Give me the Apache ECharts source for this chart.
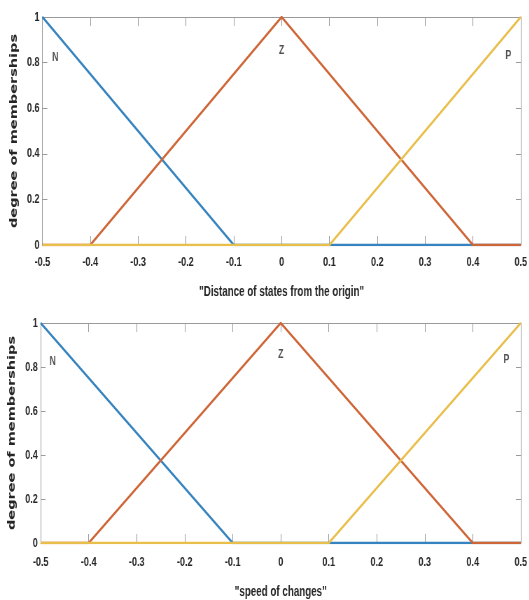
<!DOCTYPE html>
<html>
<head>
<meta charset="utf-8">
<script src="https://cdn.jsdelivr.net/npm/echarts@6/dist/echarts.min.js"></script>
<style>
  html, body { margin: 0; padding: 0; background: #fff; overflow: hidden; }
  /* narrow figure: drawn wide, then condensed horizontally */
  #chart { width: 756px; height: 600px; transform: scaleX(0.7); transform-origin: 0 0; }
</style>
</head>
<body>
<div id="chart"></div>
<script>
// Membership functions (breakpoints and membership degrees)
const nX = [-0.5, -0.1, 0.5];
const nY = [1, 0, 0];
const zX = [-0.5, -0.4, 0, 0.4, 0.5];
const zY = [0, 0, 1, 0, 0];
const pX = [-0.5, 0.1, 0.5];
const pY = [0, 0, 1];

// Fuzzy set names and where they are written
const setNames = ['N', 'Z', 'P'];
const namesX1 = [-0.473, 0, 0.474];
const namesY1 = [0.82, 0.855, 0.83];
const namesX2 = [-0.475, 0, 0.47];
const namesY2 = [0.825, 0.855, 0.835];

// Axis titles and tick labels
const xTitles = ['"Distance of states from the origin"', '"speed of changes"'];
const yTitle = 'degree of memberships';
const xTicks = [-0.5, -0.4, -0.3, -0.2, -0.1, 0, 0.1, 0.2, 0.3, 0.4, 0.5];
const yTicks = [0, 0.2, 0.4, 0.6, 0.8, 1];

const colors = { N: '#3583bf', Z: '#cf6638', P: '#e9bf4c' };
const boxColor = '#9a9a9a';
const textColor = '#262626';
const tickFont = 'Liberation Sans, Arial, sans-serif';

const pairs = (xs, ys) => xs.map((x, i) => [x, ys[i]]);
const fmt = v => String(Math.round(v * 10) / 10);

const grids = [
  { left: 60.6, right: 5, top: 17, height: 228, labelGap: 11, titleGap: 40 },
  { left: 58.1, right: 2, top: 323, height: 226, labelGap: 13, titleGap: 42 }
];

const xAxes = [], yAxes = [], series = [];
grids.forEach((g, gi) => {
  xAxes.push({
    type: 'value', gridIndex: gi, min: xTicks[0], max: xTicks[xTicks.length - 1], interval: 0.1,
    position: 'bottom',
    name: xTitles[gi], nameLocation: 'middle', nameGap: g.titleGap,
    nameTextStyle: { fontFamily: tickFont, fontSize: 14, fontWeight: 'bold', color: textColor },
    axisLine: { show: true, onZero: false, lineStyle: { color: boxColor, width: 1 } },
    axisTick: { show: true, inside: true, length: 9, lineStyle: { color: boxColor } },
    axisLabel: {
      margin: g.labelGap, fontFamily: tickFont, fontSize: 13, fontWeight: 'bold', color: textColor,
      showMinLabel: true, showMaxLabel: true, formatter: fmt
    },
    splitLine: { show: false }
  });
  xAxes.push({
    type: 'value', gridIndex: gi, min: xTicks[0], max: xTicks[xTicks.length - 1], interval: 0.1,
    position: 'top',
    axisLine: { show: true, onZero: false, lineStyle: { color: boxColor, width: 1 } },
    axisTick: { show: true, inside: true, length: 9, lineStyle: { color: boxColor } },
    axisLabel: { show: false },
    splitLine: { show: false }
  });
  yAxes.push({
    type: 'value', gridIndex: gi, min: yTicks[0], max: yTicks[yTicks.length - 1], interval: 0.2,
    position: 'left',
    name: yTitle, nameLocation: 'middle', nameGap: 32, nameRotate: 90,
    nameTextStyle: { fontFamily: 'DejaVu Sans, sans-serif', fontSize: 14.5, fontWeight: 'bold', color: textColor },
    axisLine: { show: true, onZero: false, lineStyle: { color: boxColor, width: 1 } },
    axisTick: { show: true, inside: true, length: 7, lineStyle: { color: boxColor } },
    axisLabel: { margin: 4, fontFamily: tickFont, fontSize: 13, fontWeight: 'bold', color: textColor, formatter: fmt },
    splitLine: { show: false }
  });
  yAxes.push({
    type: 'value', gridIndex: gi, min: yTicks[0], max: yTicks[yTicks.length - 1], interval: 0.2,
    position: 'right',
    axisLine: { show: true, onZero: false, lineStyle: { color: boxColor, width: 1 } },
    axisTick: { show: true, inside: true, length: 7, lineStyle: { color: boxColor } },
    axisLabel: { show: false },
    splitLine: { show: false }
  });

  const xi = gi * 2, yi = gi * 2;
  const mk = (name, xs, ys) => ({
    type: 'line', name, xAxisIndex: xi, yAxisIndex: yi,
    data: pairs(xs, ys), symbol: 'none', animation: false,
    lineStyle: { color: colors[name], width: 2.6 }
  });
  series.push(mk('N', nX, nY), mk('Z', zX, zY), mk('P', pX, pY));

  const nxs = gi === 0 ? namesX1 : namesX2;
  const nys = gi === 0 ? namesY1 : namesY2;
  series.push({
    type: 'scatter', xAxisIndex: xi, yAxisIndex: yi, symbolSize: 0, animation: false,
    data: setNames.map((s, i) => [nxs[i], nys[i], s]),
    label: {
      show: true, position: 'inside', formatter: p => p.data[2],
      fontFamily: tickFont, fontSize: 12.5, fontWeight: 'bold', color: textColor
    },
    silent: true
  });
});

const chart = echarts.init(document.getElementById('chart'), null, { renderer: 'canvas' });
chart.setOption({
  backgroundColor: '#fff',
  animation: false,
  grid: grids.map(g => ({ left: g.left, right: g.right, top: g.top, height: g.height })),
  xAxis: xAxes,
  yAxis: yAxes,
  series: series
});
</script>
</body>
</html>
